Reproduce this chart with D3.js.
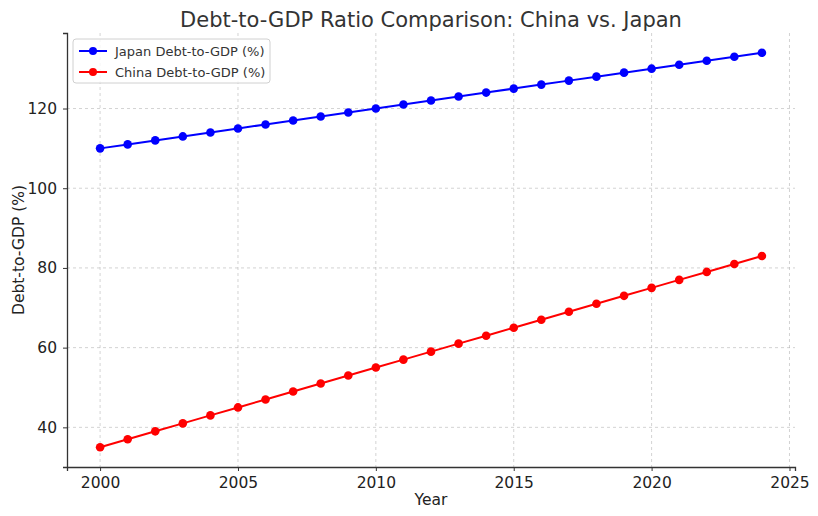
<!DOCTYPE html>
<html>
<head>
<meta charset="utf-8">
<script src="https://cdn.jsdelivr.net/npm/d3@7"></script>
<style>
  body { margin: 0; background: #fff; }
  svg { font-family: "DejaVu Sans", sans-serif; }
</style>
</head>
<body>
<svg id="chart" width="818" height="516"></svg>
<script>
// Data
const years = [2000, 2001, 2002, 2003, 2004, 2005, 2006, 2007, 2008, 2009, 2010, 2011, 2012,
               2013, 2014, 2015, 2016, 2017, 2018, 2019, 2020, 2021, 2022, 2023, 2024];
const japanDebt = [110, 111, 112, 113, 114, 115, 116, 117, 118, 119, 120, 121, 122,
                   123, 124, 125, 126, 127, 128, 129, 130, 131, 132, 133, 134];
const chinaDebt = [35, 37, 39, 41, 43, 45, 47, 49, 51, 53, 55, 57, 59,
                   61, 63, 65, 67, 69, 71, 73, 75, 77, 79, 81, 83];
const xTicks = [2000, 2005, 2010, 2015, 2020, 2025];
const yTicks = [40, 60, 80, 100, 120];

const series = [
    { name: 'Japan Debt-to-GDP (%)', values: japanDebt, color: '#0000ff' },
    { name: 'China Debt-to-GDP (%)', values: chinaDebt, color: '#ff0000' }
];

const margin = { top: 33, right: 23, bottom: 49, left: 67 };
const width = 818 - margin.left - margin.right;
const height = 516 - margin.top - margin.bottom;

const svg = d3.select('#chart');
const g = svg.append('g').attr('transform', `translate(${margin.left},${margin.top})`);

const x = d3.scaleLinear().domain([1998.8, 2025.2]).range([0, width]);
const y = d3.scaleLinear().domain([30.05, 138.95]).range([height, 0]);

// Grid
g.append('g').selectAll('line').data(xTicks).enter().append('line')
    .attr('x1', d => x(d)).attr('x2', d => x(d))
    .attr('y1', 0).attr('y2', height)
    .attr('stroke', '#b0b0b0').attr('stroke-opacity', 0.7)
    .attr('stroke-dasharray', '3,3').attr('stroke-width', 0.8);
g.append('g').selectAll('line').data(yTicks).enter().append('line')
    .attr('x1', 0).attr('x2', width)
    .attr('y1', d => y(d)).attr('y2', d => y(d))
    .attr('stroke', '#b0b0b0').attr('stroke-opacity', 0.7)
    .attr('stroke-dasharray', '3,3').attr('stroke-width', 0.8);

// Axes
const xAxis = g.append('g')
    .attr('transform', `translate(0,${height})`)
    .call(d3.axisBottom(x).tickValues(xTicks).tickFormat(d3.format('d')).tickSizeOuter(0).tickSize(4).tickPadding(6));
const yAxis = g.append('g')
    .call(d3.axisLeft(y).tickValues(yTicks).tickSizeOuter(0).tickSize(4).tickPadding(6));
[xAxis, yAxis].forEach(a => {
    a.select('.domain').attr('stroke', '#333').attr('stroke-width', 1.3);
    a.selectAll('.tick line').attr('stroke', '#333');
    a.selectAll('text').attr('fill', '#222').style('font-size', '15.5px')
        .style('font-family', '"DejaVu Sans", sans-serif');
});

// Lines and markers
const line = d3.line().x((d, i) => x(years[i])).y(d => y(d));
series.forEach(s => {
    g.append('path')
        .datum(s.values)
        .attr('fill', 'none')
        .attr('stroke', s.color)
        .attr('stroke-width', 2)
        .attr('d', line);
    g.append('g').selectAll('circle').data(s.values).enter().append('circle')
        .attr('cx', (d, i) => x(years[i]))
        .attr('cy', d => y(d))
        .attr('r', 4.3)
        .attr('fill', s.color);
});

// Title and labels
svg.append('text')
    .attr('x', margin.left + width / 2).attr('y', 27)
    .attr('text-anchor', 'middle')
    .attr('fill', '#333')
    .style('font-size', '21px')
    .text('Debt-to-GDP Ratio Comparison: China vs. Japan');
svg.append('text')
    .attr('x', margin.left + width / 2).attr('y', 505)
    .attr('text-anchor', 'middle')
    .attr('fill', '#222')
    .style('font-size', '15.5px')
    .text('Year');
svg.append('text')
    .attr('transform', `translate(24,${margin.top + height / 2}) rotate(-90)`)
    .attr('text-anchor', 'middle')
    .attr('fill', '#222')
    .style('font-size', '15.5px')
    .text('Debt-to-GDP (%)');

// Legend
const legend = g.append('g').attr('transform', 'translate(6,6)');
legend.append('rect')
    .attr('width', 197).attr('height', 44).attr('rx', 3)
    .attr('fill', '#fff').attr('fill-opacity', 0.8)
    .attr('stroke', '#d0d0d0');
series.forEach((s, i) => {
    const ly = 12 + i * 21;
    legend.append('line')
        .attr('x1', 6).attr('x2', 34).attr('y1', ly).attr('y2', ly)
        .attr('stroke', s.color).attr('stroke-width', 2);
    legend.append('circle').attr('cx', 20).attr('cy', ly).attr('r', 4).attr('fill', s.color);
    legend.append('text')
        .attr('x', 42).attr('y', ly + 4.5)
        .attr('fill', '#333')
        .style('font-size', '13px')
        .text(s.name);
});
</script>
</body>
</html>
